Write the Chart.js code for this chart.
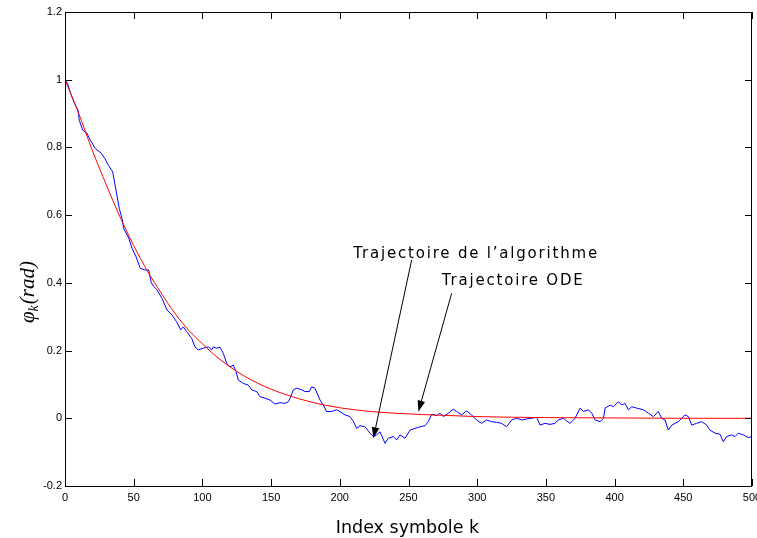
<!DOCTYPE html>
<html><head><meta charset="utf-8">
<script src="https://cdn.jsdelivr.net/npm/chart.js@4.4.1/dist/chart.umd.min.js"></script>
<style>html,body{margin:0;padding:0;background:#fff}#wrap{width:757px;height:538px}</style>
</head><body><div id="wrap"><canvas id="c" width="757" height="538"></canvas></div>
<script>
// ---- data ----
const xTickValues = [0,50,100,150,200,250,300,350,400,450,500];
const xTickLabels = ['0','50','100','150','200','250','300','350','400','450','500'];
const yTickValues = [-0.2,0,0.2,0.4,0.6,0.8,1,1.2];
const yTickLabels = ['-0.2','0','0.2','0.4','0.6','0.8','1','1.2'];

const xAxisTitle = 'Index symbole k';
const yAxisMain = '\u03C6';
const yAxisSub = 'k';
const yAxisRest = '(rad)';

const algoLabel = 'Trajectoire de l\u2019algorithme';
const odeLabel = 'Trajectoire ODE';

// ODE trajectory (red)
const odeK = [0,10,20,30,40,50,60,70,80,90,100,110,120,130,140,150,160,170,180,190,200,220,240,260,280,300,350,400,450,500];
const odeV = [1.0,0.90,0.79,0.69,0.595,0.51,0.435,0.37,0.31,0.26,0.22,0.183,0.152,0.126,0.104,0.086,0.071,0.058,0.047,0.038,0.031,0.021,0.015,0.011,0.008,0.005,0.002,0.001,0.0,0.0];

// algorithm trajectory (blue)
const algoK = [0,2,4,7.5,9.5,10.4,12.9,16,18.4,22,26.4,28.9,31.8,34.7,37.1,39.5,41.5,42.7,46.4,48.8,51.7,54.8,58.4,60.9,62.8,64.5,67,70.6,74.2,77.9,81.2,84.2,86.1,88.5,92.2,94.6,97,100.7,104.3,106.8,108,110.4,112.8,115.2,117.7,120.1,122.5,124.5,126.1,129.8,133.4,135.9,139.5,141.9,145.6,149.2,152.8,156.5,160.1,162.5,163.8,166.2,168.6,172.3,174.7,177.8,179.5,181.9,185.6,188,190.4,194.1,197.7,200.1,203.8,207.4,210,212.3,214.7,218.3,222,224.4,226.8,229.3,232.9,235.3,239,241.4,243.8,247.5,251.1,254.7,258.4,262,264.4,266.9,270.5,272.9,275.3,279,282.6,285,288.7,292.3,295.9,299.6,303.2,306.9,310.5,314.1,317.8,321.4,325.1,328.7,332.4,336,339.6,343.3,345.7,349.3,353,356.6,359,362.7,365.2,367.6,371.2,374.9,377.3,381,383.4,385.8,389.4,391.9,393.1,396.7,399.1,402.8,405.2,407.6,410,412.5,416.1,421,424.6,428.2,431.8,434.3,436.7,439.1,441.6,444,446.4,448.8,451.2,453.7,456.1,459.7,463.4,467,469.4,473.1,476.7,479.1,481.6,485.2,487.6,490,493.7,497.3,500];
const algoV = [1.0,0.988,0.96,0.925,0.91,0.88,0.851,0.842,0.822,0.797,0.783,0.768,0.746,0.728,0.674,0.62,0.59,0.561,0.532,0.502,0.477,0.443,0.438,0.438,0.40,0.39,0.379,0.354,0.32,0.305,0.285,0.261,0.27,0.256,0.236,0.211,0.202,0.207,0.211,0.202,0.211,0.207,0.21,0.192,0.162,0.152,0.157,0.138,0.113,0.103,0.098,0.084,0.079,0.064,0.059,0.054,0.042,0.046,0.044,0.049,0.059,0.084,0.089,0.084,0.079,0.079,0.093,0.089,0.054,0.039,0.02,0.02,0.025,0.02,0.01,0.005,-0.01,-0.03,-0.022,-0.025,-0.044,-0.054,-0.049,-0.04,-0.074,-0.059,-0.054,-0.064,-0.049,-0.059,-0.035,-0.03,-0.025,-0.022,-0.01,0.012,0.008,0.015,0.005,0.015,0.027,0.02,0.01,0.022,0.01,-0.005,-0.015,-0.005,-0.01,-0.012,-0.015,-0.025,-0.005,0.0,-0.005,-0.002,0.0,0.003,-0.02,-0.015,-0.018,-0.015,-0.005,0.0,-0.008,-0.015,0.0,0.03,0.02,0.025,0.015,-0.005,-0.01,0.0,0.03,0.039,0.034,0.049,0.039,0.044,0.025,0.034,0.03,0.025,0.015,0.005,0.02,0.0,-0.005,-0.035,-0.02,-0.015,-0.01,0.0,0.01,0.005,-0.02,-0.015,-0.01,-0.02,-0.035,-0.044,-0.047,-0.069,-0.054,-0.049,-0.054,-0.044,-0.049,-0.057,-0.054];

// annotation anchors (data coordinates)
const algoText = {k:209.8, v:0.4725};
const odeText = {k:274.2, v:0.3937};
const algoArrow = {k0:252.3, v0:0.4675, k1:224.4, v1:-0.059};
const odeArrow = {k0:281.4, v0:0.369, k1:257.2, v1:0.0195};

// ---- chart ----
const toXY = (ks, vs) => ks.map((k, i) => ({x: k, y: vs[i]}));

const decor = {
  id: 'decor',
  afterDatasetsDraw(chart) {
    const ctx = chart.ctx, a = chart.chartArea, xs = chart.scales.x, ys = chart.scales.y;
    ctx.save();
    ctx.strokeStyle = '#000';
    ctx.lineWidth = 1;
    // box
    ctx.strokeRect(Math.round(a.left) + 0.5, Math.round(a.top) + 0.5, Math.round(a.right) - Math.round(a.left) - 1, Math.round(a.bottom) - Math.round(a.top));
    // inward ticks
    const tl = 7;
    ctx.beginPath();
    xTickValues.forEach(v => {
      const p = Math.round(xs.getPixelForValue(v)) + 0.5;
      ctx.moveTo(p, a.bottom); ctx.lineTo(p, a.bottom - tl);
      ctx.moveTo(p, a.top); ctx.lineTo(p, a.top + tl);
    });
    yTickValues.forEach(v => {
      const p = Math.round(ys.getPixelForValue(v)) + 0.5;
      ctx.moveTo(a.left, p); ctx.lineTo(a.left + tl, p);
      ctx.moveTo(a.right, p); ctx.lineTo(a.right - tl, p);
    });
    ctx.stroke();
    // arrows
    const arrow = (ar) => {
      const x0 = xs.getPixelForValue(ar.k0), y0 = ys.getPixelForValue(ar.v0);
      const x1 = xs.getPixelForValue(ar.k1), y1 = ys.getPixelForValue(ar.v1);
      const ang = Math.atan2(y1 - y0, x1 - x0);
      const L = 11, W = 3.8;
      const bx = x1 - L * Math.cos(ang), by = y1 - L * Math.sin(ang);
      ctx.beginPath(); ctx.moveTo(x0, y0); ctx.lineTo(bx, by); ctx.stroke();
      ctx.beginPath();
      ctx.moveTo(x1, y1);
      ctx.lineTo(bx + W * Math.sin(ang), by - W * Math.cos(ang));
      ctx.lineTo(bx - W * Math.sin(ang), by + W * Math.cos(ang));
      ctx.closePath();
      ctx.fillStyle = '#000'; ctx.fill();
    };
    arrow(algoArrow); arrow(odeArrow);
    // annotation text
    ctx.fillStyle = '#000';
    ctx.font = '15px "DejaVu Sans"';
    try { ctx.letterSpacing = '1.8px'; } catch (e) {}
    ctx.textAlign = 'left'; ctx.textBaseline = 'alphabetic';
    ctx.fillText(algoLabel, xs.getPixelForValue(algoText.k), ys.getPixelForValue(algoText.v));
    ctx.fillText(odeLabel, xs.getPixelForValue(odeText.k), ys.getPixelForValue(odeText.v));
    try { ctx.letterSpacing = '0px'; } catch (e) {}
    // x axis title
    ctx.font = '17.5px "DejaVu Sans"';
    ctx.textAlign = 'center';
    ctx.fillText(xAxisTitle, (a.left + a.right) / 2 - 1, 533);
    // y axis title (rotated, with subscript)
    ctx.translate(34, 292);
    ctx.rotate(-Math.PI / 2);
    const fMain = 'italic 21px "Liberation Serif"', fSub = 'italic 14px "Liberation Serif"';
    ctx.font = fMain; const w1 = ctx.measureText(yAxisMain).width;
    const w3 = ctx.measureText(yAxisRest).width;
    ctx.font = fSub; const w2 = ctx.measureText(yAxisSub).width;
    const tot = w1 + w2 + 1 + w3;
    let x = -tot / 2;
    ctx.textAlign = 'left';
    ctx.font = fMain; ctx.fillText(yAxisMain, x, 0); x += w1;
    ctx.font = fSub; ctx.fillText(yAxisSub, x, 4); x += w2 + 1;
    ctx.font = fMain; ctx.fillText(yAxisRest, x, 0);
    ctx.restore();
  }
};

new Chart(document.getElementById('c'), {
  type: 'scatter',
  data: {
    datasets: [
      {label: 'Trajectoire ODE', data: toXY(odeK, odeV), showLine: true, borderColor: '#ff0000', borderWidth: 1, pointRadius: 0, cubicInterpolationMode: 'monotone', fill: false},
      {label: 'Trajectoire de l\u2019algorithme', data: toXY(algoK, algoV), showLine: true, borderColor: '#0000ff', borderWidth: 1, pointRadius: 0, tension: 0, fill: false}
    ]
  },
  options: {
    responsive: false,
    animation: false,
    devicePixelRatio: 1,
    layout: {padding: {left: 0, right: 5, top: 12, bottom: 0}},
    plugins: {legend: {display: false}, tooltip: {enabled: false}},
    scales: {
      x: {
        type: 'linear', min: 0, max: 500,
        afterBuildTicks: s => { s.ticks = xTickValues.map(v => ({value: v})); },
        ticks: {color: '#000', font: {family: 'Liberation Sans', size: 11}, padding: 5, maxRotation: 0, autoSkip: false,
          callback: (v, i) => xTickLabels[i]},
        grid: {display: false, drawTicks: false},
        border: {display: false},
        afterFit: s => { s.height = 52; s.paddingLeft = 0; s.paddingRight = 0; }
      },
      y: {
        type: 'linear', min: -0.2, max: 1.2,
        afterBuildTicks: s => { s.ticks = yTickValues.map(v => ({value: v})); },
        ticks: {color: '#000', font: {family: 'Liberation Sans', size: 11}, padding: 3, autoSkip: false,
          callback: (v, i) => yTickLabels[i]},
        grid: {display: false, drawTicks: false},
        border: {display: false},
        afterFit: s => { s.width = 65; s.paddingTop = 0; s.paddingBottom = 0; }
      }
    }
  },
  plugins: [decor]
});
</script>
</body></html>
